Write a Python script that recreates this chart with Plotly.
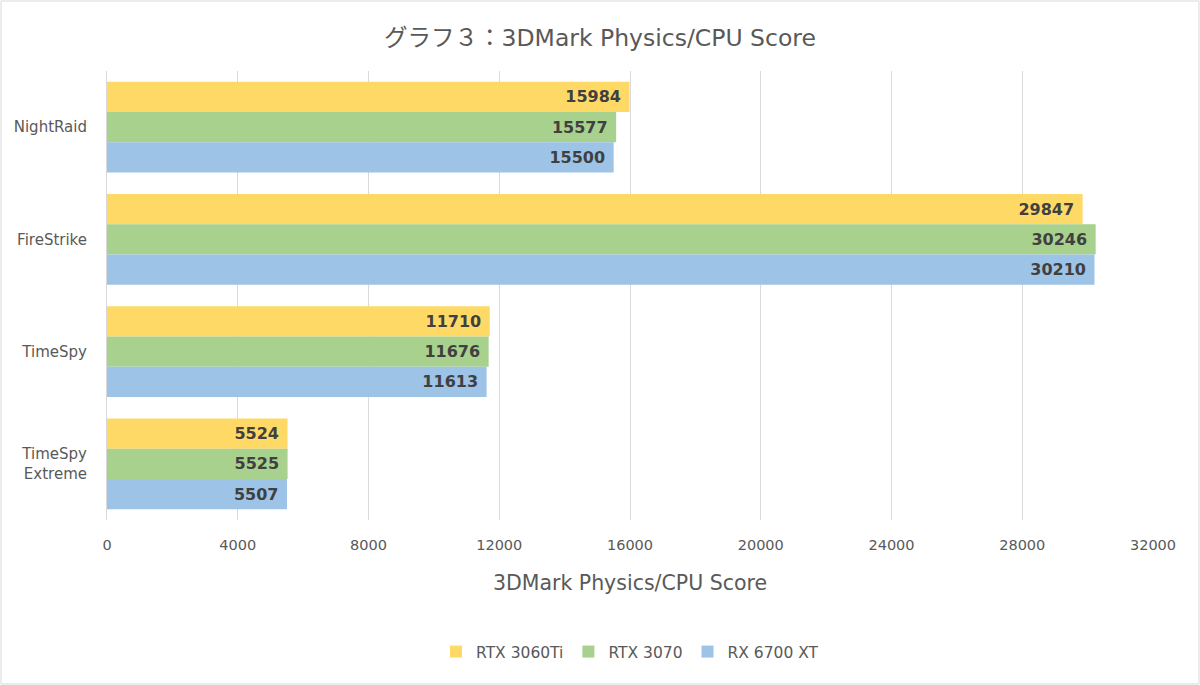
import plotly.graph_objects as go

categories = ["NightRaid", "FireStrike", "TimeSpy", "TimeSpy<br>Extreme"]
series_names = ["RTX 3060Ti", "RTX 3070", "RX 6700 XT"]
rtx3060ti = [15984, 29847, 11710, 5524]
rtx3070 = [15577, 30246, 11676, 5525]
rx6700xt = [15500, 30210, 11613, 5507]
colors = ["#FFD966", "#A9D18E", "#9DC3E6"]
tick_vals = [0, 4000, 8000, 12000, 16000, 20000, 24000, 28000, 32000]
tick_text = [str(v) for v in tick_vals]

W, H = 1200, 685
ml, mr, mt, mb = 107, 47, 71, 165
pw, ph = W - ml - mr, H - mt - mb

font_family = "DejaVu Sans, Noto Sans CJK JP, sans-serif"
gray = "#595959"

fig = go.Figure()
for name, vals, col in zip(series_names, [rtx3060ti, rtx3070, rx6700xt], colors):
    fig.add_trace(go.Bar(
        y=categories, x=vals, name=name, orientation="h",
        marker=dict(color=col, line=dict(width=0)),
        text=[str(v) for v in vals], texttemplate="%{text}\u00a0",
        textposition="inside", insidetextanchor="end",
        textfont=dict(color="#404040", size=16, family=font_family, weight="bold"),
        cliponaxis=False,
    ))

fig.update_layout(
    width=W, height=H,
    margin=dict(l=ml, r=mr, t=mt, b=mb),
    paper_bgcolor="white", plot_bgcolor="white",
    barmode="group", bargap=0.19, bargroupgap=0,
    font=dict(family=font_family, color=gray, size=15),
    title=dict(text="グラフ３：3DMark Physics/CPU Score", x=0.5, xanchor="center",
               y=1 - 38 / H, yanchor="middle",
               font=dict(size=23.5, color=gray, family=font_family)),
    xaxis=dict(range=[0, 32000], tickvals=tick_vals, ticktext=tick_text, showgrid=True,
               gridcolor="#D9D9D9", gridwidth=1, zeroline=False,
               showline=False, ticks="", ticklabelstandoff=14,
               tickfont=dict(size=14.5, color=gray),
               title=dict(text="3DMark Physics/CPU Score", standoff=24,
                          font=dict(size=20.5, color=gray))),
    yaxis=dict(autorange="reversed", showline=True, linecolor="#D9D9D9",
               linewidth=1, ticks="", showgrid=False, ticklabelstandoff=16,
               tickfont=dict(size=15, color=gray)),
    legend=dict(orientation="h", x=0.5, xanchor="center", y=-(652 - (mt + ph)) / ph,
                yanchor="middle", font=dict(size=15.5, color=gray),
                itemwidth=30, traceorder="normal"),
    uniformtext=dict(minsize=8, mode="show"),
)

fig.add_shape(type="rect", xref="paper", yref="paper",
              x0=-(ml - 1) / pw, x1=1 + (mr - 1) / pw,
              y0=-(mb - 1) / ph, y1=1 + (mt - 1) / ph,
              line=dict(color="#D9D9D9", width=1), fillcolor="rgba(0,0,0,0)", layer="below")

fig.write_html("out.html", config={"displayModeBar": False},
               post_script="document.body.style.margin='0';document.body.style.overflow='hidden';")
